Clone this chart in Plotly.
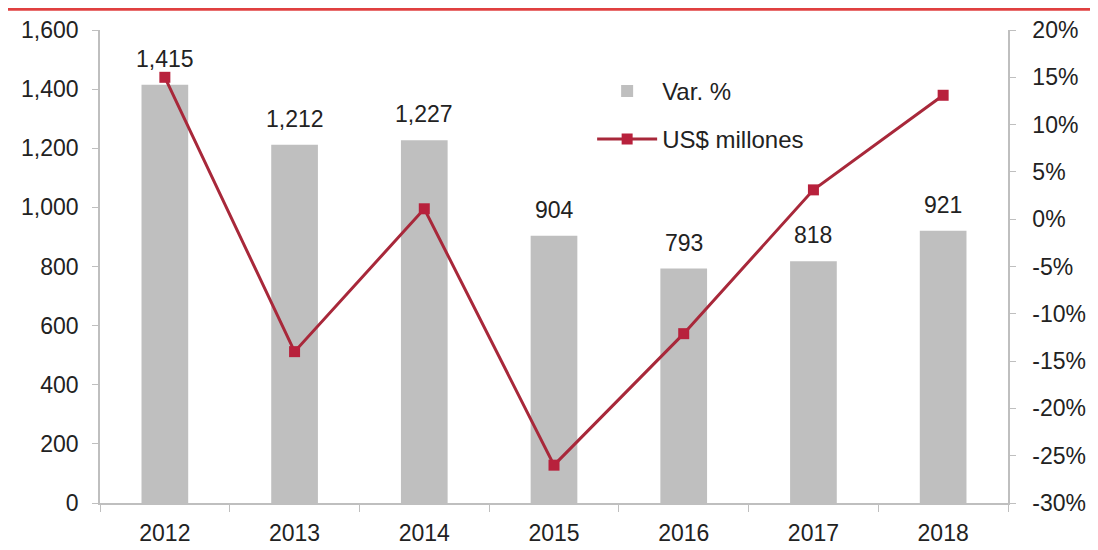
import plotly.graph_objects as go

years = ["2012", "2013", "2014", "2015", "2016", "2017", "2018"]
usd_millones = [1415, 1212, 1227, 904, 793, 818, 921]
var_pct = [15.0, -14.0, 1.1, -26.0, -12.1, 3.1, 13.1]

pct_tick_vals = [-30, -25, -20, -15, -10, -5, 0, 5, 10, 15, 20]
pct_tick_text = ["-30%", "-25%", "-20%", "-15%", "-10%", "-5%", "0%", "5%", "10%", "15%", "20%"]

bar_name = "Var. %"
line_name = "US$ millones"

font_family = "Liberation Sans, Arial, sans-serif"

fig = go.Figure()
fig.add_trace(go.Bar(
    x=years, y=usd_millones, name=bar_name, legendgroup="a",
    marker=dict(color="#bfbfbf", line=dict(width=0)),
))
fig.add_trace(go.Scatter(
    x=years, y=var_pct, name=line_name, yaxis="y2", legendgroup="b",
    mode="lines+markers",
    line=dict(color="#a8283a", width=3),
    marker=dict(symbol="square", size=11, color="#b8213c"),
))

annotations = [
    dict(x=i, y=v, xref="x", yref="y", text=f"{v:,}", showarrow=False,
         yanchor="bottom", yshift=11, font=dict(size=23, color="#222222"))
    for i, v in enumerate(usd_millones)
]

fig.update_layout(
    width=1098, height=550,
    margin=dict(l=92, r=98, t=22, b=55, autoexpand=False),
    paper_bgcolor="white", plot_bgcolor="white",
    font=dict(family=font_family, size=23, color="#222222"),
    bargap=0.64,
    showlegend=True,
    annotations=annotations,
    legend=dict(x=0.542, y=0.918, xanchor="left", yanchor="top",
                bgcolor="rgba(0,0,0,0)", font=dict(size=24),
                traceorder="grouped", tracegroupgap=14, itemwidth=60),
    xaxis=dict(
        type="category", categoryorder="array", categoryarray=years,
        range=[-0.5, len(years) - 0.5], automargin=False,
        showline=True, linecolor="#bfbfbf", linewidth=1.5,
        ticks="outside", tickson="boundaries", ticklen=7, tickcolor="#bfbfbf",
        tickfont=dict(size=23), showgrid=False, ticklabelstandoff=9,
        tickangle=0,
    ),
    yaxis=dict(
        range=[0, 1600], dtick=200, tickformat=",", showgrid=False,
        automargin=False,
        showline=True, linecolor="#bfbfbf", linewidth=1.5,
        ticks="outside", ticklen=6, tickcolor="#bfbfbf",
        tickfont=dict(size=23), zeroline=False, ticklabelstandoff=9,
    ),
    yaxis2=dict(
        range=[-30, 20], tickmode="array", tickvals=pct_tick_vals, ticktext=pct_tick_text,
        overlaying="y", side="right", automargin=False,
        showgrid=False, showline=True, linecolor="#bfbfbf", linewidth=1.5,
        ticks="outside", ticklen=6, tickcolor="#bfbfbf",
        tickfont=dict(size=23), zeroline=False, ticklabelstandoff=12,
    ),
    shapes=[dict(type="line", xref="paper", yref="paper",
                 x0=-0.2, x1=1.2, y0=1.044, y1=1.044,
                 line=dict(color="#e04040", width=3))],
)

fig.write_html("out.html")
